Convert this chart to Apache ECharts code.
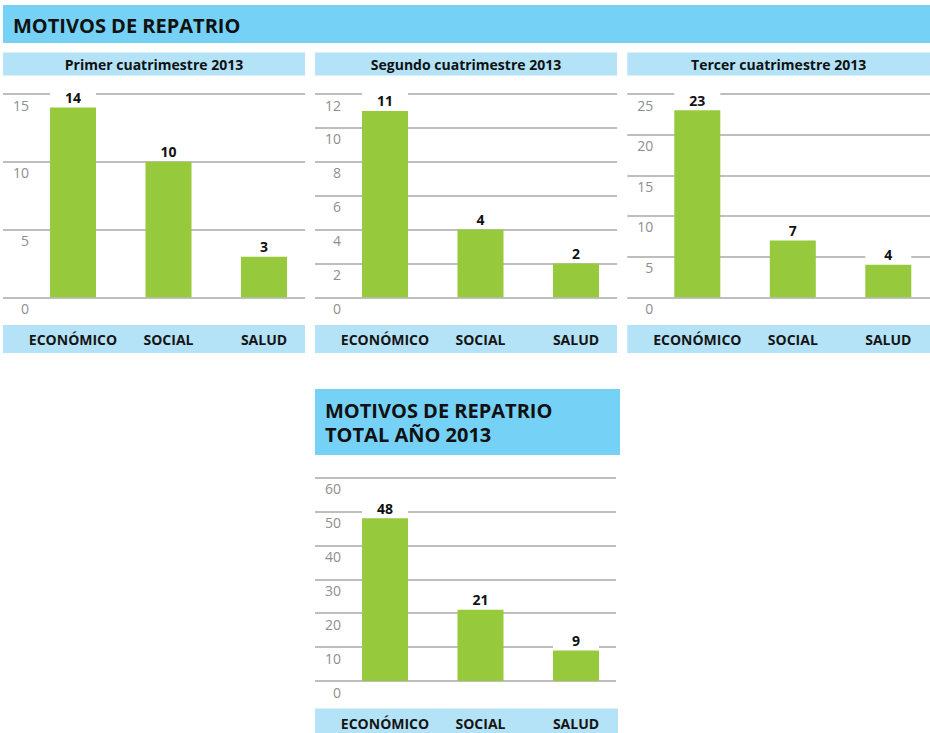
<!DOCTYPE html>
<html>
<head>
<meta charset="utf-8">
<script src="https://cdn.jsdelivr.net/npm/echarts@6/dist/echarts.min.js"></script>
<style>
  html, body { margin: 0; padding: 0; background: #fff; }
  #chart { width: 930px; height: 733px; }
</style>
</head>
<body>
<div id="chart"></div>
<script>
// datos
const categories = ['ECONÓMICO', 'SOCIAL', 'SALUD'];
const primerValues = [14, 10, 3];
const segundoValues = [11, 4, 2];
const tercerValues = [23, 7, 4];
const totalValues = [48, 21, 9];
const panelTitles = ['Primer cuatrimestre 2013', 'Segundo cuatrimestre 2013', 'Tercer cuatrimestre 2013'];
const axisMax = [15, 12, 25, 60];
const axisStep = [5, 2, 5, 10];
const mainTitle = 'MOTIVOS DE REPATRIO';
const totalTitle = ['MOTIVOS DE REPATRIO', 'TOTAL AÑO 2013'];

const FONT = '"Open Sans", "DejaVu Sans", sans-serif';
const BLUE = '#75d1f6';
const LIGHT = '#b4e3f8';
const GREEN = '#97c93d';

// posiciones de cada panel
const panels = [
  { values: primerValues, left: 3, width: 302, top: 94, height: 203.3, strip: 325, stripH: 28 },
  { values: segundoValues, left: 315, width: 302, top: 94, height: 203.3, strip: 325, stripH: 28 },
  { values: tercerValues, left: 627.3, width: 302.7, top: 94, height: 203.3, strip: 325, stripH: 28 },
  { values: totalValues, left: 315, width: 301, top: 477.7, height: 203.3, strip: 708.5, stripH: 25 }
];

const option = {
  animation: false,
  backgroundColor: '#fff',
  grid: [],
  xAxis: [],
  yAxis: [],
  series: [],
  graphic: []
};

// cabecera
option.graphic.push({
  type: 'rect', z: -10,
  shape: { x: 3, y: 5, width: 927, height: 38 },
  style: { fill: BLUE }
});
option.graphic.push({
  type: 'text',
  style: { text: mainTitle, x: 13, y: 25, font: 'bold 20px ' + FONT, fill: '#111', verticalAlign: 'middle' }
});

panels.forEach(function (p, i) {
  const g = i * 2;
  // grid de las lineas
  option.grid.push({ left: p.left, top: p.top, width: p.width, height: p.height, outerBoundsMode: 'none' });
  // grid de las barras
  option.grid.push({ left: p.left + 22.25, top: p.top, width: 286.5, height: p.height, outerBoundsMode: 'none' });

  option.xAxis.push({ gridIndex: g, type: 'category', data: categories, show: false });
  option.yAxis.push({
    gridIndex: g,
    type: 'value',
    min: 0,
    max: axisMax[i],
    interval: axisStep[i],
    axisLine: { show: false },
    axisTick: { show: false },
    splitLine: { show: true, lineStyle: { color: '#a8a8a8', width: 1.5 } },
    axisLabel: {
      inside: true,
      align: 'right',
      margin: 26,
      verticalAlign: 'top',
      padding: [4, 0, 0, 0],
      color: '#8e8e8e',
      fontSize: 14,
      fontFamily: FONT
    }
  });

  option.xAxis.push({
    gridIndex: g + 1,
    type: 'category',
    data: categories,
    axisLine: { show: false },
    axisTick: { show: false },
    axisLabel: {
      margin: 35,
      color: '#151515',
      fontWeight: 'bold',
      fontSize: 14,
      fontFamily: FONT,
      interval: 0
    }
  });
  option.yAxis.push({ gridIndex: g + 1, type: 'value', min: 0, max: axisMax[i], interval: axisStep[i], show: false });

  option.series.push({
    type: 'bar',
    xAxisIndex: g + 1,
    yAxisIndex: g + 1,
    data: p.values,
    barWidth: 46,
    itemStyle: { color: GREEN },
    label: {
      show: true,
      position: 'top',
      distance: 1,
      width: 46,
      lineHeight: 18,
      align: 'center',
      backgroundColor: '#fff',
      color: '#111',
      fontWeight: 'bold',
      fontSize: 14,
      fontFamily: FONT
    }
  });

  // franja de categorias
  option.graphic.push({
    type: 'rect', z: -10,
    shape: { x: p.left, y: p.strip, width: p.width + (i === 3 ? 2 : 0), height: p.stripH },
    style: { fill: LIGHT }
  });

  if (i < 3) {
    option.graphic.push({
      type: 'rect', z: -10,
      shape: { x: p.left, y: 52.5, width: p.width, height: 23 },
      style: { fill: LIGHT }
    });
    option.graphic.push({
      type: 'text',
      style: {
        text: panelTitles[i], x: p.left + p.width / 2, y: 64,
        font: 'bold 14px ' + FONT, fill: '#111', align: 'center', verticalAlign: 'middle'
      }
    });
  }
});

// recuadro del total
option.graphic.push({
  type: 'rect', z: -10,
  shape: { x: 315, y: 389, width: 305, height: 66 },
  style: { fill: BLUE }
});
totalTitle.forEach(function (t, k) {
  option.graphic.push({
    type: 'text',
    style: { text: t, x: 325, y: 410 + k * 24.5, font: 'bold 20px ' + FONT, fill: '#111', verticalAlign: 'middle' }
  });
});

const chart = echarts.init(document.getElementById('chart'), null, { renderer: 'svg' });
chart.setOption(option);
</script>
</body>
</html>
